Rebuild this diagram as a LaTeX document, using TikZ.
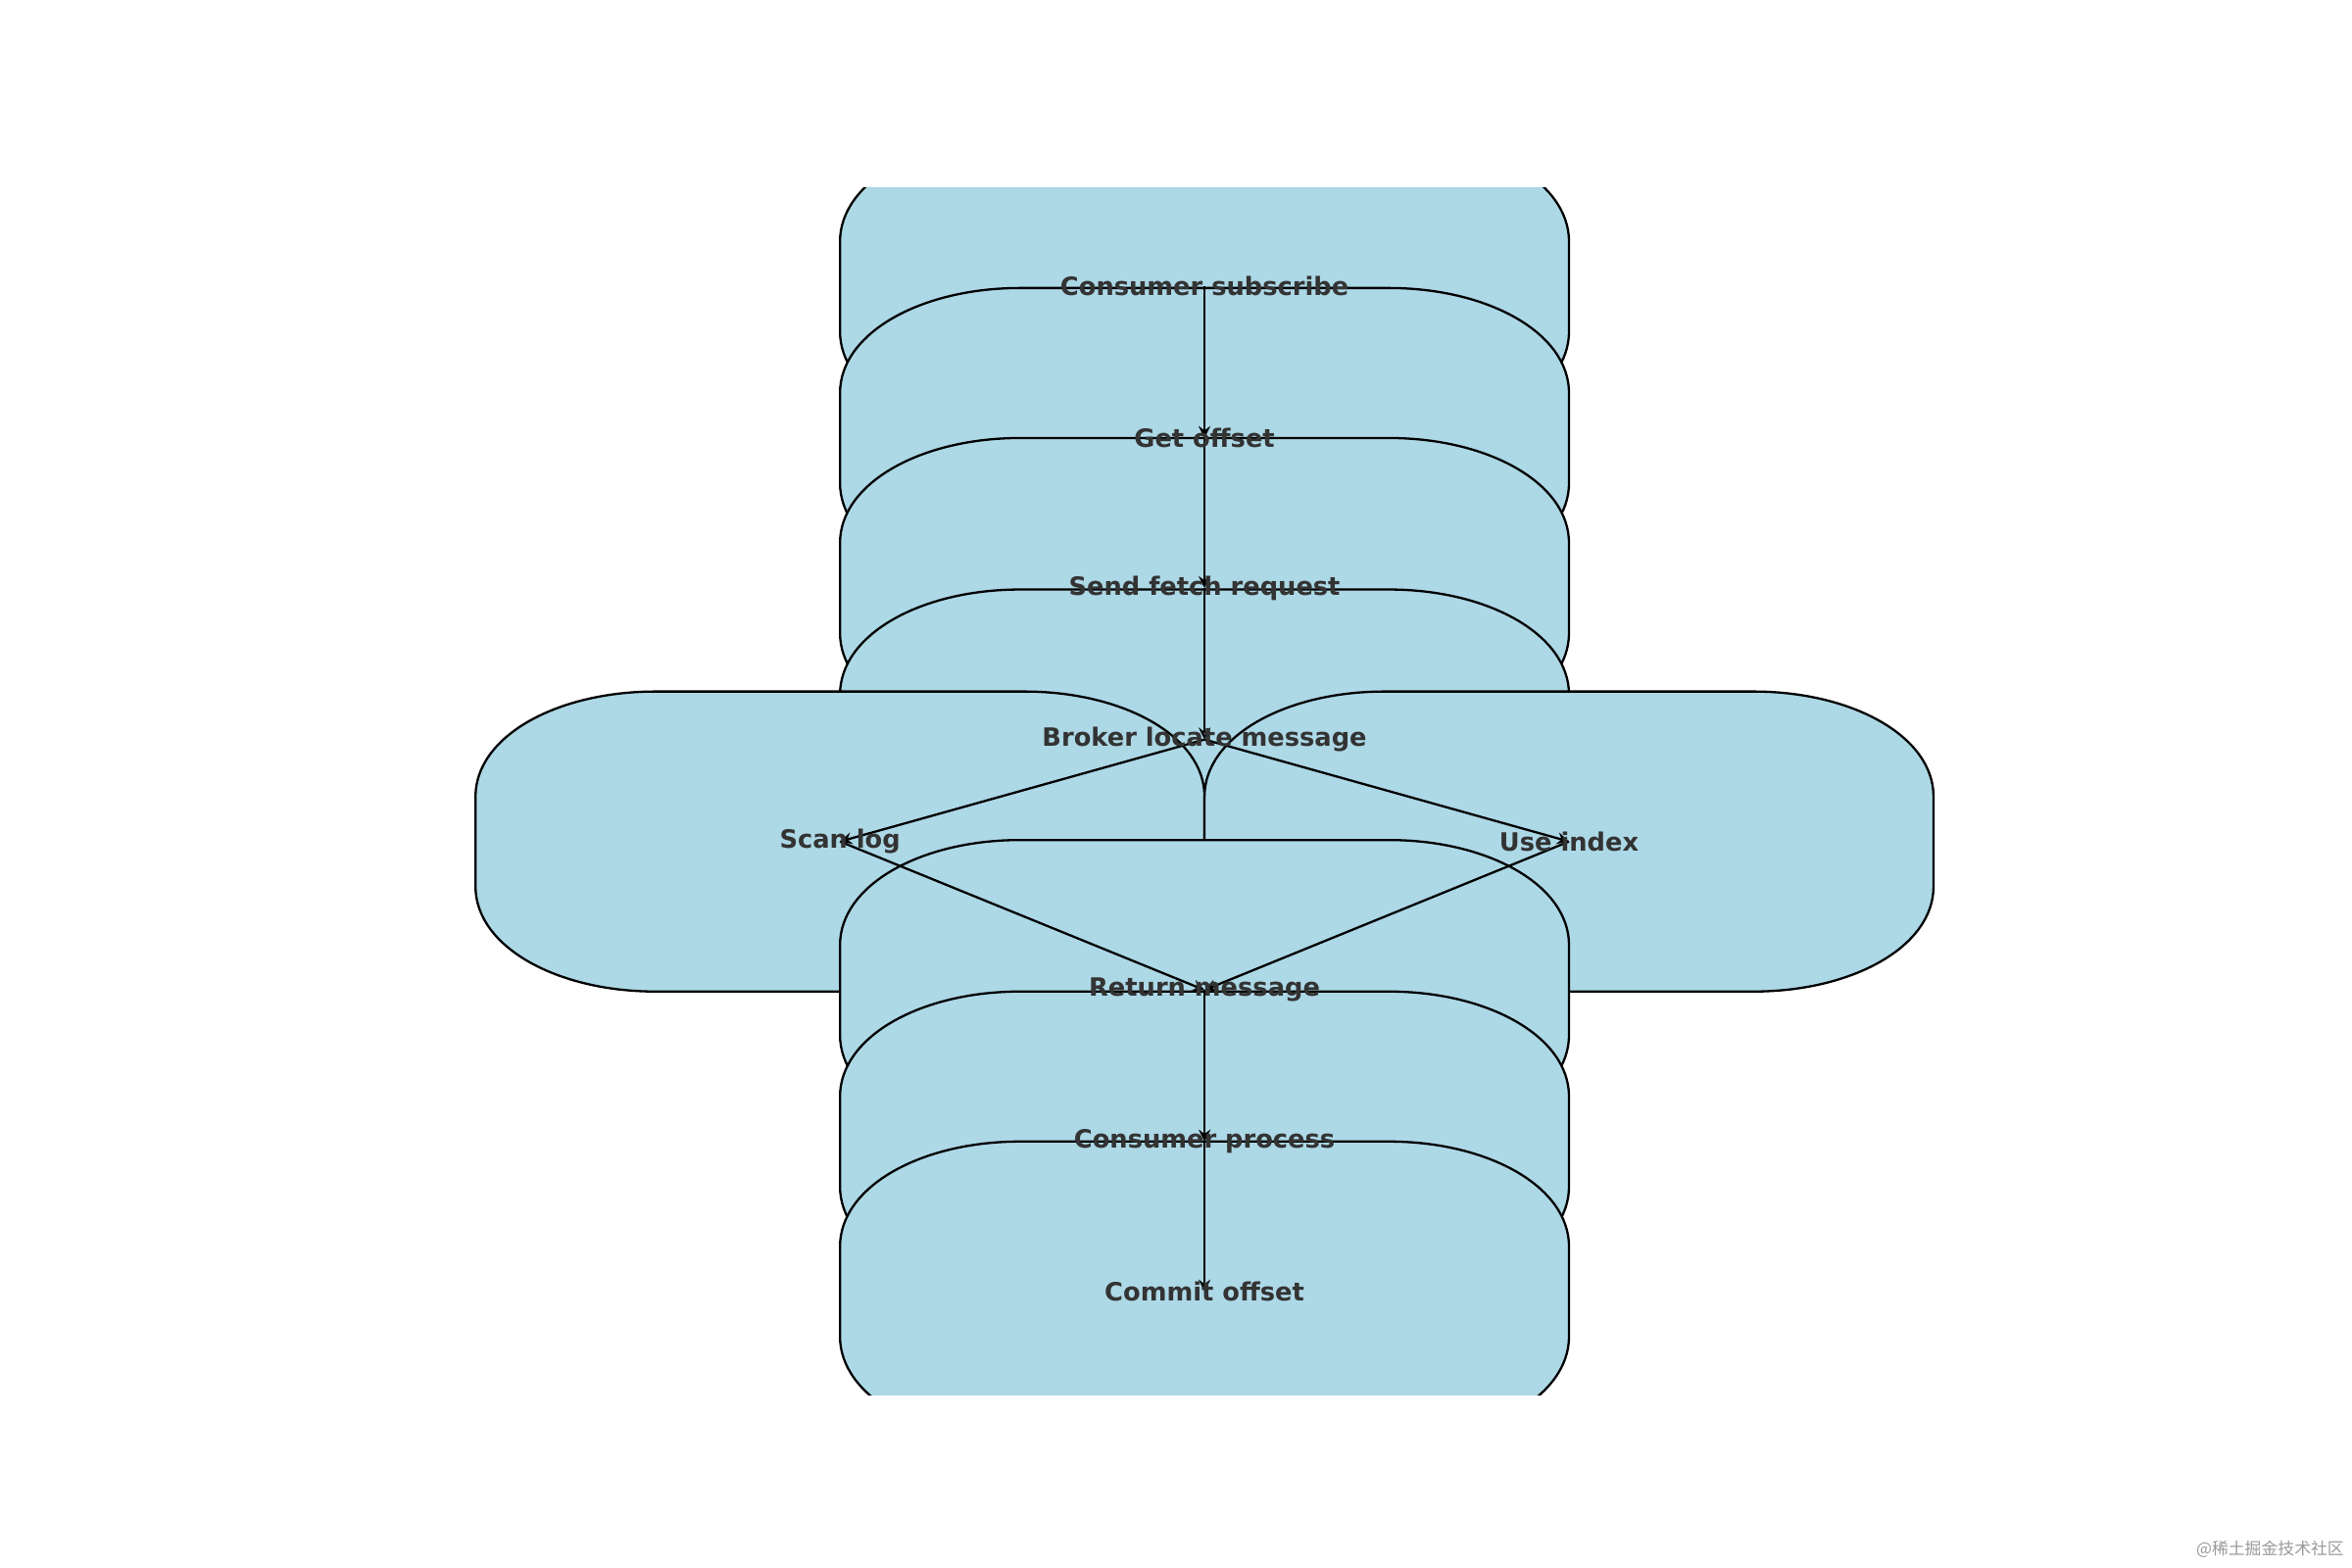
\documentclass[tikz,border=0pt]{standalone}
\usepackage{fontspec}
\setmainfont{DejaVu Sans}
\newfontfamily\cjk{Noto Sans CJK SC}
\definecolor{boxblue}{HTML}{ADD8E6}
\definecolor{txt}{HTML}{333333}
\newcommand{\rbx}[2]{%
  \pgfmathsetmacro{\xa}{#1-243}\pgfmathsetmacro{\xb}{#1+243}%
  \pgfmathsetmacro{\ya}{#2-100}\pgfmathsetmacro{\yb}{#2+100}%
  \filldraw[boxstyle] (\xa,\ya+70) .. controls (\xa,\ya+30) and (\xa+54,\ya) .. (\xa+120,\ya)
    -- (\xb-120,\ya) .. controls (\xb-54,\ya) and (\xb,\ya+30) .. (\xb,\ya+70)
    -- (\xb,\yb-70) .. controls (\xb,\yb-30) and (\xb-54,\yb) .. (\xb-120,\yb)
    -- (\xa+120,\yb) .. controls (\xa+54,\yb) and (\xa,\yb-30) .. (\xa,\yb-70) -- cycle;}
\begin{document}
\begin{tikzpicture}[x=0.5pt,y=-0.5pt,
  boxstyle/.style={fill=boxblue,draw=black,line width=0.75pt},
  lbl/.style={font=\bfseries\fontsize{8.4}{10}\selectfont,text=txt,inner sep=0},
  arr/.style={->,>=stealth,line width=0.75pt,shorten >=0pt}]
\useasboundingbox (0,0) rectangle (1568,1045);
\begin{scope}
\clip (0,125) rectangle (1568,930);
\rbx{803}{191}\rbx{803}{292}\rbx{803}{392}\rbx{803}{493}
\rbx{560}{561}\rbx{1046}{561}
\rbx{803}{660}\rbx{803}{761}\rbx{803}{861}
\end{scope}
\coordinate (a) at (803,191);
\coordinate (b) at (803,292);
\coordinate (c) at (803,392);
\coordinate (d) at (803,493);
\coordinate (e) at (560,561);
\coordinate (f) at (1046,561);
\coordinate (g) at (803,660);
\coordinate (h) at (803,761);
\coordinate (i) at (803,861);
\draw[arr] (a)--(b); \draw[arr] (b)--(c); \draw[arr] (c)--(d);
\draw[arr] (d)--(e); \draw[arr] (d)--(f);
\draw[arr] (e)--(g); \draw[arr] (f)--(g);
\draw[arr] (g)--(h); \draw[arr] (h)--(i);
\node[lbl] (ta) at (a) {Consumer subscribe};
\node[lbl] (tb) at (b) {Get offset};
\node[lbl] (tc) at (c) {Send fetch request};
\node[lbl] (td) at (d) {Broker locate message};
\node[lbl] (te) at (e) {Scan log};
\node[lbl] (tf) at (f) {Use index};
\node[lbl] (tg) at (g) {Return message};
\node[lbl] (th) at (h) {Consumer process};
\node[lbl] (ti) at (i) {Commit offset};
\node[font=\cjk\fontsize{5.5}{6}\selectfont,text=black!40,anchor=east,inner sep=0] (wm) at (1563,1033) {@稀土掘金技术社区};
\end{tikzpicture}
\end{document}
